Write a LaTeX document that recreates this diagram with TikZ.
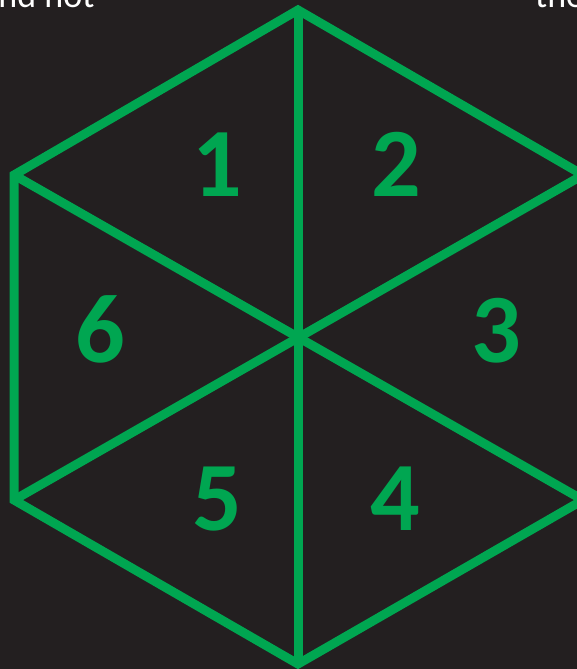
\documentclass[tikz,border=0pt]{standalone}
\usepackage{fontspec}
\setmainfont{Carlito}
\definecolor{bgdark}{HTML}{231F20}
\definecolor{hexgreen}{HTML}{00A651}
\begin{document}
\begin{tikzpicture}[x=1pt,y=-1pt,
  edge/.style={draw=hexgreen,line width=9pt,line join=miter,line cap=butt},
  num/.style={text=hexgreen,font=\fontsize{98}{98}\selectfont\bfseries,inner sep=0pt,anchor=base},
  toptext/.style={text=white,font=\fontsize{36}{36}\selectfont,inner sep=0pt,anchor=base west}]
\useasboundingbox (0,0) rectangle (577,669);
\fill[bgdark] (0,0) rectangle (577,669);
\begin{scope}
\clip (0,0) rectangle (577,669);
\coordinate (T) at (298,10);
\coordinate (B) at (298,664);
\coordinate (LT) at (14,175);
\coordinate (LB) at (14,500);
\coordinate (RT) at (583,175);
\coordinate (RB) at (583,500);
\draw[edge] (T) -- (RT) -- (RB) -- (B) -- (LB) -- (LT) -- cycle;
\draw[edge] (T) -- (B);
\draw[edge] (LT) -- (RB);
\draw[edge] (RT) -- (LB);
\node[num] (n1) at (217,196) {1};
\node[num] (n2) at (396,196) {2};
\node[num] (n3) at (496,362) {3};
\node[num] (n4) at (395,530) {4};
\node[num] (n5) at (217,530) {5};
\node[num] (n6) at (100,362) {6};
\node[toptext] (tl) at (-19,8) {and not};
\node[toptext] (tr) at (535,8) {the};
\end{scope}
\end{tikzpicture}
\end{document}
